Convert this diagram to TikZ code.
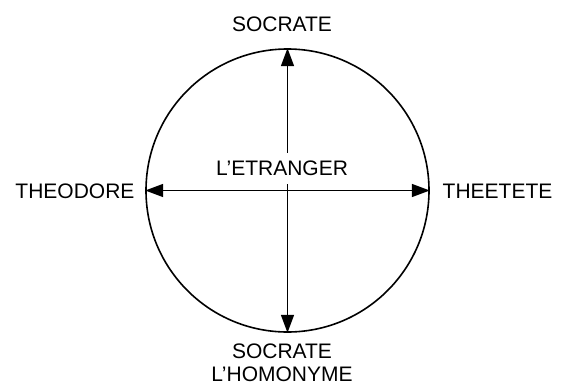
\documentclass[tikz,border=0pt]{standalone}
\usepackage{fontspec}
\setmainfont{Liberation Sans}
\usetikzlibrary{arrows.meta}
\begin{document}
\begin{tikzpicture}[x=1pt,y=-1pt,
  lbl/.style={font=\fontsize{21}{23}\selectfont, inner sep=0pt, align=center},
  conn/.style={line width=1.6pt, {Triangle[length=18pt,width=13pt]}-{Triangle[length=18pt,width=13pt]}}]
\useasboundingbox (0,0) rectangle (564,386);
\node[draw, line width=1.6pt, circle, minimum size=283pt, inner sep=0pt] (c) at (287.5,190.5) {};
\draw[conn] (c.north) -- (c.south);
\draw[conn] (c.west) -- (c.east);
\node[lbl, fill=white, text height=15pt, text depth=0pt, inner ysep=8pt, inner xsep=4pt] (e) at (282,168) {L’ETRANGER};
\node[lbl, anchor=base] (s) at (282,31.5) {SOCRATE};
\node[lbl, anchor=base] (t) at (75,198.5) {THEODORE};
\node[lbl, anchor=base] (h) at (497.5,198.5) {THEETETE};
\node[lbl, anchor=north] (b) at (282,344) {SOCRATE\\L’HOMONYME};
\end{tikzpicture}
\end{document}
